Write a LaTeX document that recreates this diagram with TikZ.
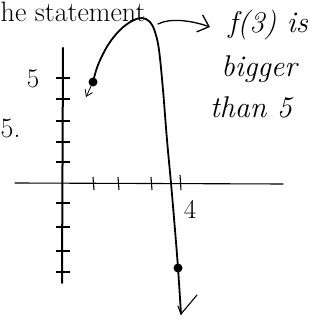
\documentclass[tikz,border=0pt]{standalone}
\usetikzlibrary{arrows.meta}
\begin{document}
\begin{tikzpicture}[x=1pt,y=-1pt,
  hand/.style={line width=1.8pt,line cap=round,line join=round},
  axisline/.style={line width=2pt,line cap=round},
  tickmark/.style={line width=1.1pt},
  dotnode/.style={circle,fill=black,inner sep=0pt,minimum size=9pt},
  printed/.style={inner sep=0pt,font=\fontsize{28}{33}\selectfont},
  handtext/.style={inner sep=0pt,font=\fontsize{30}{34}\selectfont\itshape}]
\useasboundingbox (0,0) rectangle (327,320);
% printed text
\node[printed,anchor=base west] (stmt) at (0.5,21.5) {he statement};
\node[printed,anchor=base west] (num) at (0.5,138) {5.};
% axes
\coordinate (ytop) at (63,48);
\coordinate (ybot) at (62,283);
\coordinate (xl) at (15,183);
\coordinate (xr) at (283,184);
\draw[axisline] (ytop) -- (ybot);
\draw[axisline,line width=1.1pt] (xl) -- (xr);
% y ticks
\foreach \yy in {78,99,121,142,162,203,227,251,272}
  \draw[tickmark] (56,\yy) -- (70,\yy);
% x ticks
\foreach \xx in {93,118,151}
  \draw[tickmark] (\xx,177) -- (\xx+1,190);
\draw[tickmark] (180,175) -- (181,190);
% labels
\node[handtext,font=\fontsize{27}{30}\selectfont] (five) at (33,79) {5};
\node[handtext,font=\fontsize{27}{30}\selectfont] (four) at (190,209) {4};
% points
\node[dotnode] (pa) at (93,82) {};
\node[dotnode] (pb) at (178,268) {};
\coordinate (peak) at (142,18);
\coordinate (endb) at (181,314);
\coordinate (enda) at (86,97);
% curve
\draw[hand] plot[smooth,tension=0.6] coordinates {(93,82) (98,65) (108,45) (120,30) (132,21) (142,18) (150,22) (155,32) (159,50) (163,90) (167,140) (171,183) (175,230) (178,268) (181,314)};
\draw[hand,line width=0.8pt,-{Straight Barb[length=6pt,width=8pt]}] (pa) -- (enda);
\draw[hand,line width=1.1pt] (endb) -- (197,295);
\draw[hand,line width=1.1pt] (endb) -- (178,306);
% annotation arrow
\coordinate (astart) at (158,24);
\node[handtext] (f3) at (268,25) {f(3) is};
\node[handtext] (big) at (259,69) {bigger};
\node[handtext] (than) at (251,107) {than 5};
\draw[hand,line width=1.3pt,-{Straight Barb[length=10pt,width=18pt]}] (astart) .. controls (170,18) and (190,20) .. (210,27);
\end{tikzpicture}
\end{document}
